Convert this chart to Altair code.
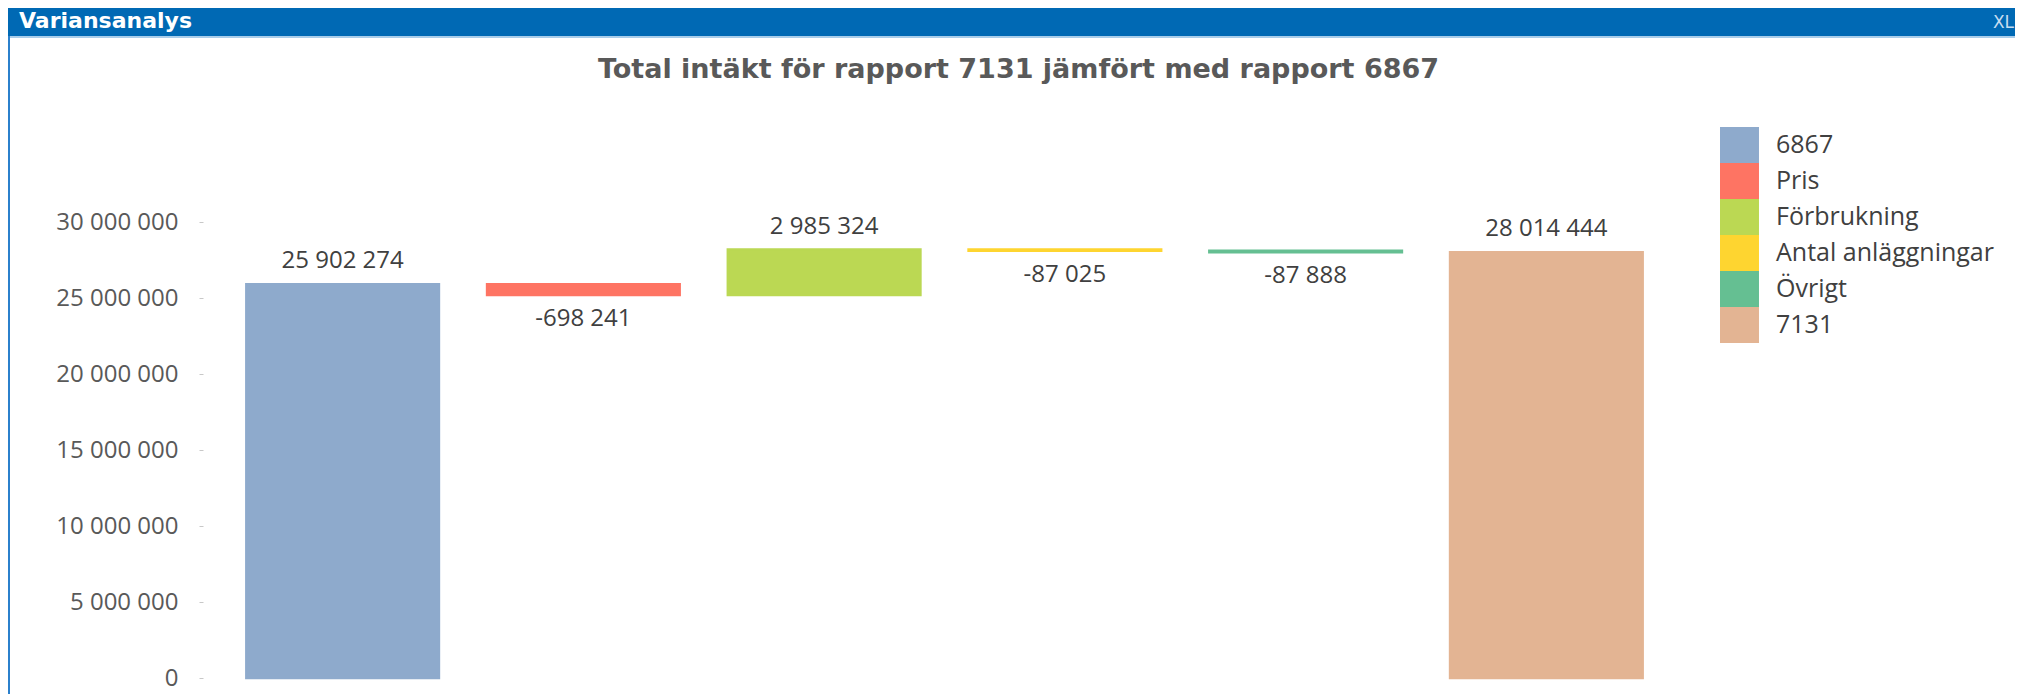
import altair as alt
import pandas as pd

# ---- data ----
categories = ["6867", "Pris", "Förbrukning", "Antal anläggningar", "Övrigt", "7131"]
values = [25902274, -698241, 2985324, -87025, -87888, 28014444]
is_total = [True, False, False, False, False, True]
colors = ["#8eaacc", "#fe7463", "#bbd853", "#fed530", "#65bf92", "#e3b493"]
y_ticks = [0, 5000000, 10000000, 15000000, 20000000, 25000000, 30000000]

title_text = "Total intäkt för rapport 7131 jämfört med rapport 6867"
panel_text = "Variansanalys"

# ---- waterfall table built from the arrays ----
rows = []
running = 0
for cat, v, tot in zip(categories, values, is_total):
    if tot:
        start, end = 0, v
    else:
        start, end = running, running + v
    running = end
    above = tot or v > 0
    rows.append({
        "category": cat,
        "start": start,
        "end": end,
        "label_y": max(start, end) if above else min(start, end),
        "pos": "above" if above else "below",
        "label": f"{v:,}".replace(",", "\u00a0"),
    })
df = pd.DataFrame(rows)

FONT = "Open Sans"
PLOT_W, PLOT_H = 1483, 456

x_enc = alt.X("category:N", sort=categories, axis=None,
              scale=alt.Scale(paddingInner=0.2, paddingOuter=0.18))
y_scale = alt.Scale(domain=[0, 30000000], nice=False, zero=True)

base = alt.Chart(df)

bars = base.mark_bar().encode(
    x=x_enc,
    y=alt.Y("start:Q", scale=y_scale, title=None,
            axis=alt.Axis(values=y_ticks, format=",d", labelFont=FONT, labelFontSize=24,
                          labelColor="#595959", tickColor="#c8c8c8", tickSize=4,
                          labelPadding=21, domain=False, grid=False)),
    y2="end:Q",
    color=alt.Color("category:N", sort=categories,
                    scale=alt.Scale(domain=categories, range=colors),
                    legend=alt.Legend(title=None, orient="none", legendX=1517, legendY=-95,
                                      symbolType="M-1.11,-1H1.11V1H-1.11Z", symbolSize=1296,
                                      symbolStrokeColor="#8c8c8c", symbolStrokeWidth=1,
                                      symbolOpacity=1, clipHeight=36,
                                      labelFont=FONT, labelFontSize=25, labelColor="#404040",
                                      labelOffset=19, labelLimit=400, rowPadding=0,
                                      padding=0)),
)

# outline in the bar's own colour, so that the very small changes stay visible
bar_edges = base.mark_bar(fillOpacity=0, strokeWidth=2.5).encode(
    x=alt.X("category:N", sort=categories),
    y="start:Q",
    y2="end:Q",
    stroke=alt.Stroke("category:N", sort=categories,
                      scale=alt.Scale(domain=categories, range=colors), legend=None),
)

labels_above = base.transform_filter(alt.datum.pos == "above").mark_text(
    font=FONT, fontSize=24, color="#404040", baseline="middle", dy=-23
).encode(x=alt.X("category:N", sort=categories), y=alt.Y("label_y:Q"), text="label:N")

labels_below = base.transform_filter(alt.datum.pos == "below").mark_text(
    font=FONT, fontSize=24, color="#404040", baseline="middle", dy=24
).encode(x=alt.X("category:N", sort=categories), y=alt.Y("label_y:Q"), text="label:N")

one = alt.Chart(pd.DataFrame({"k": [0]}))

RIGHT_EDGE = 1812
header = one.mark_rect(color="#0069b4").encode(
    x=alt.value(-195), x2=alt.value(RIGHT_EDGE), y=alt.value(-214), y2=alt.value(-186))
header_line = one.mark_rule(color="#a9cdea", strokeWidth=2).encode(
    x=alt.value(-195), x2=alt.value(RIGHT_EDGE), y=alt.value(-185))
left_border = one.mark_rule(color="#2b80cc", strokeWidth=2).encode(
    x=alt.value(-194), y=alt.value(-186), y2=alt.value(480))
header_text = one.mark_text(text=panel_text, font="DejaVu Sans", fontWeight="bold",
                            fontSize=22, color="white", align="left",
                            baseline="alphabetic").encode(x=alt.value(-184), y=alt.value(-194))
xl_text = one.mark_text(text="XL", font="DejaVu Sans", fontSize=17, color="#c5dcf0",
                        align="right", baseline="alphabetic").encode(
    x=alt.value(RIGHT_EDGE - 1), y=alt.value(-194))
title = one.mark_text(text=title_text, font="DejaVu Sans", fontWeight="bold", fontSize=27,
                      color="#595959", align="center", baseline="middle").encode(
    x=alt.value(815.5), y=alt.value(-152.5))

chart = alt.layer(
    header, header_line, left_border, header_text, xl_text, title,
    bars, bar_edges, labels_above, labels_below,
).properties(
    width=PLOT_W,
    height=PLOT_H,
    padding={"left": 195, "top": 214, "right": RIGHT_EDGE - PLOT_W, "bottom": 16},
    autosize=alt.AutoSizeParams(type="none"),
).configure(
    background="white",
    locale={"number": {"decimal": ",", "thousands": "\u00a0", "grouping": [3],
                       "currency": ["", " kr"]}},
).configure_view(
    strokeWidth=0
)

chart.save("out.html", embed_options={"renderer": "svg", "actions": False})
